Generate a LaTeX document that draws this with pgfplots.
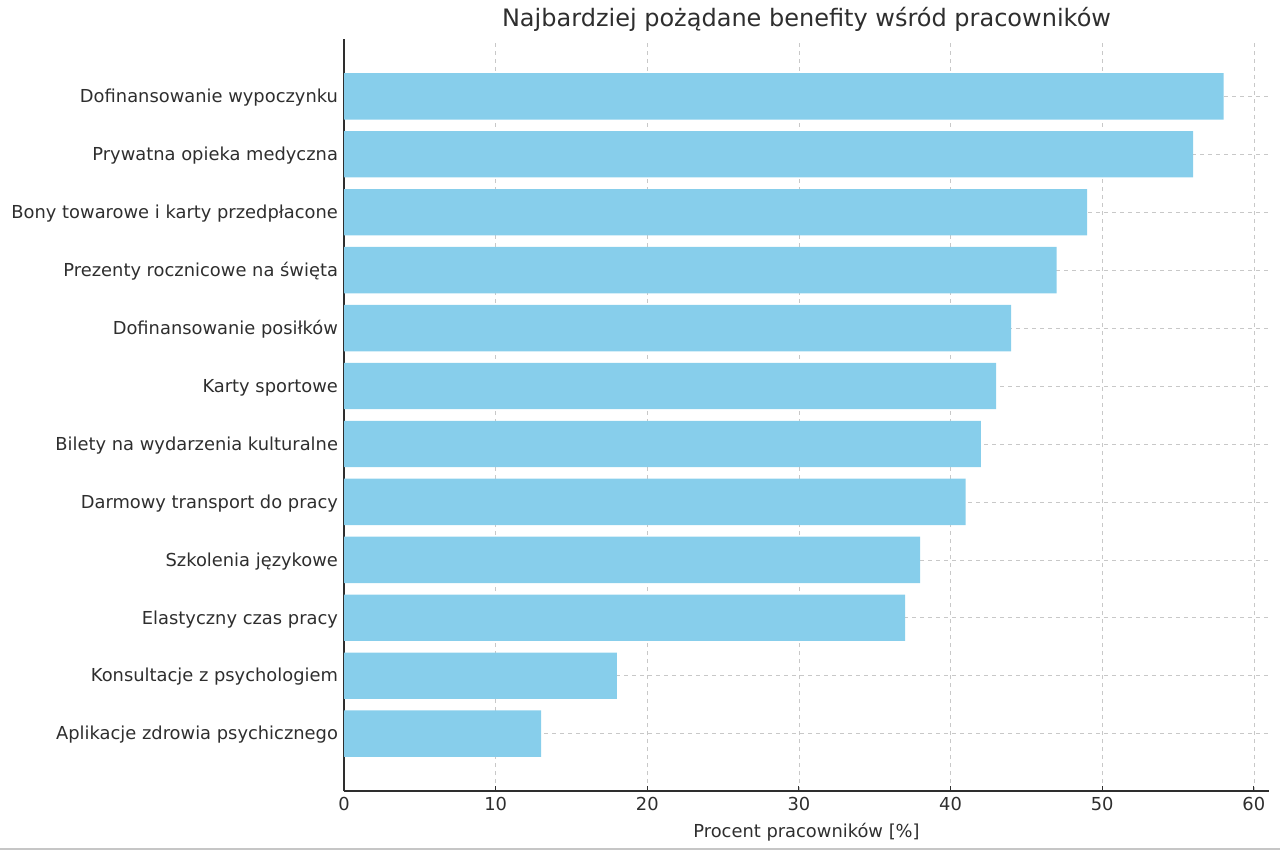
\documentclass[border=0pt]{standalone}
\usepackage{fontspec}
\setmainfont{DejaVu Sans}
\usepackage{pgfplots}
\pgfplotsset{compat=1.18}
\definecolor{barblue}{HTML}{87CEEB}
\definecolor{txt}{HTML}{2E2E2E}
\definecolor{gridc}{HTML}{C8C8C8}
\begin{document}
\begin{tikzpicture}[x=1pt,y=1pt]
\path[use as bounding box] (0,0) rectangle (960,637.5);
\fill[gray!45] (0,0) rectangle (960,1.5);
\begin{axis}[
  scale only axis,
  width=693.75pt, height=564pt,
  at={(258pt,44.25pt)}, anchor=south west,
  xbar, bar width=0.8, bar shift=0pt,
  xmin=0, xmax=61, ymin=-0.99, ymax=11.99,
  axis x line*=bottom, axis y line*=left,
  axis line style={line width=1pt, color=txt},
  xtick={0,10,20,30,40,50,60},
  ytick={0,...,11},
  yticklabels={Aplikacje zdrowia psychicznego, Konsultacje z psychologiem, Elastyczny czas pracy, Szkolenia językowe, Darmowy transport do pracy, Bilety na wydarzenia kulturalne, Karty sportowe, Dofinansowanie posiłków, Prezenty rocznicowe na święta, {Bony towarowe i karty przedpłacone}, Prywatna opieka medyczna, Dofinansowanie wypoczynku},
  tick align=inside,
  major tick length=4pt,
  tick style={color=txt, line width=0.8pt},
  ticklabel style={font=\fontsize{13.4}{15}\selectfont, color=txt},
  /pgf/number format/assume math mode=true,
  yticklabel style={xshift=-1pt, yshift=-1pt},
  xticklabel style={yshift=-1.5pt},
  grid=major,
  major grid style={dashed, gridc, line width=0.5pt},
  xlabel={Procent pracowników [\%]},
  xlabel style={font=\fontsize{13.4}{15}\selectfont, color=txt, yshift=-2pt},
  title={Najbardziej pożądane benefity wśród pracowników},
  title style={font=\fontsize{18}{21}\selectfont, color=txt, yshift=-4pt},
]
\addplot[fill=barblue, draw=none] coordinates {
 (13,0) (18,1) (37,2) (38,3) (41,4) (42,5) (43,6) (44,7) (47,8) (49,9) (56,10) (58,11)
};
\end{axis}
\end{tikzpicture}
\end{document}
